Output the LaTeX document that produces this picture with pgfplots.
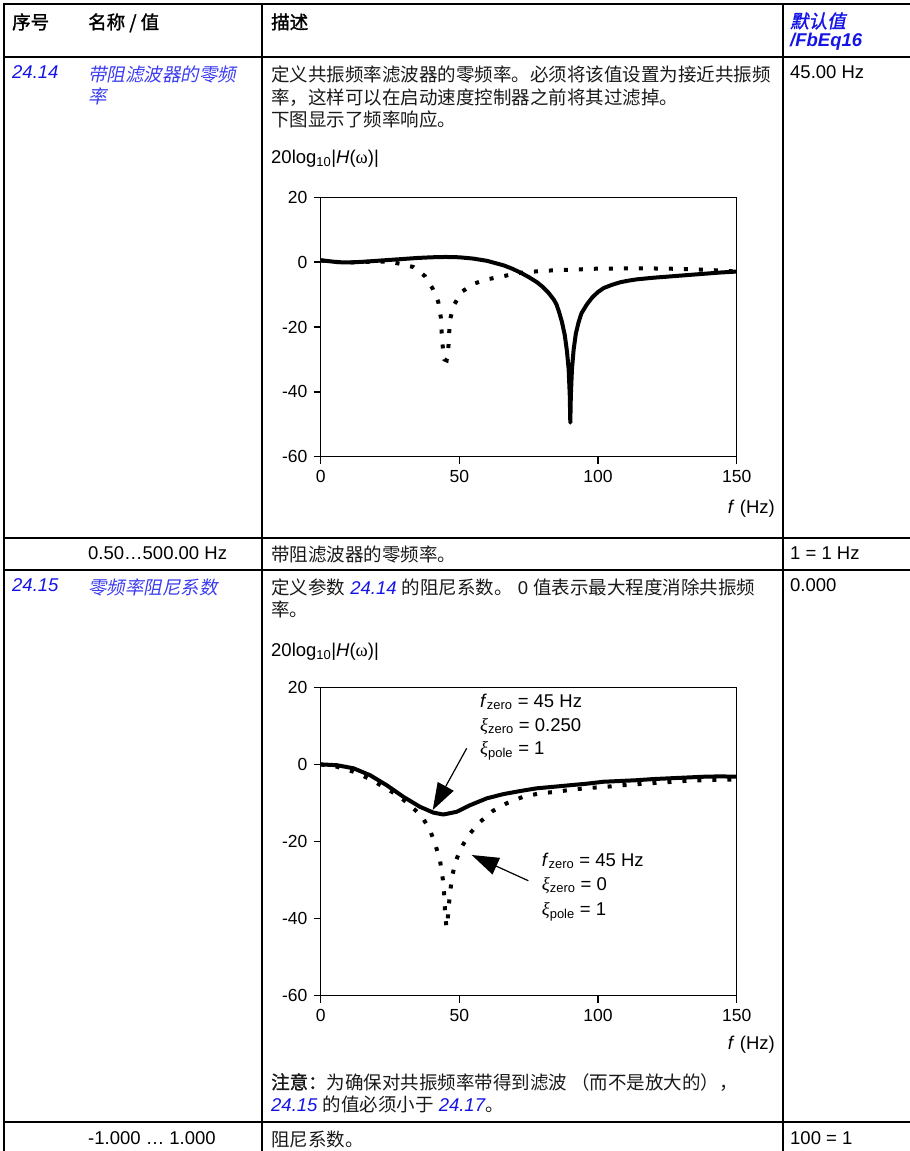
\documentclass[border=0pt]{standalone}
\usepackage{pgfplots}
\pgfplotsset{compat=1.18}
\usetikzlibrary{arrows.meta}
\usepackage{fontspec}
\setmainfont{Liberation Sans}
\newfontfamily\cjk{Noto Sans CJK SC}
\newfontfamily\cjkit[FakeSlant=0.2]{Noto Sans CJK SC}
\newfontfamily\cjkbf[FakeBold=1.5]{Noto Sans CJK SC}
\newfontfamily\cjkbfit[FakeBold=1.5,FakeSlant=0.2]{Noto Sans CJK SC}
\newfontfamily\serif{Liberation Serif}

\definecolor{lnk}{RGB}{20,20,230}
\definecolor{lnk2}{RGB}{60,60,240}
\definecolor{txt}{RGB}{25,25,25}

\pgfplotsset{
  bode/.style={
    scale only axis, width=416pt, anchor=south west,
    xmin=0, xmax=150, ymin=-60, ymax=20,
    xtick={0,50,100,150}, xticklabels={0,50,100,150},
    ytick={-60,-40,-20,0,20}, yticklabels={-60,-40,-20,0,20},
    tick align=outside, tick pos=left,
    major tick length=7pt,
    axis line style={line width=1.4pt},
    tick style={black, line width=1.4pt},
    ticklabel style={font=\fontsize{17.5}{20}\selectfont},
  },
  solidcurve/.style={black, line width=4pt, line join=round},
  dotcurve/.style={black, line width=4pt, dash pattern=on 4pt off 11pt},
}

% text helper: x, baseline y (pixels from top), content
\newcommand\T[3]{\node[anchor=base west, inner sep=0pt] at (#1,#2) {#3};}
\newcommand\gxi{{\serif\itshape ξ}}

\begin{document}
\fontsize{18.5}{22}\selectfont
\begin{tikzpicture}[x=1pt, y=-1pt]
\path[use as bounding box] (0,0) rectangle (910,1151);

% table rules
\begin{scope}[line width=2.3pt]
  \draw (4,4) -- (910,4);
  \draw (4,57) -- (910,57);
  \draw (4,538) -- (910,538);
  \draw (4,570) -- (910,570);
  \draw (4,1122) -- (910,1122);
  \draw (4,3) -- (4,1151);
  \draw (262,3) -- (262,1151);
  \draw (783,3) -- (783,1151);
\end{scope}

% header
\T{12}{29}{\cjkbf 序号}
\T{88}{29}{\cjkbf 名称 / 值}
\T{271}{29}{\cjkbf 描述}
\T{790}{28}{\color{lnk}\cjkbfit 默认值}
\T{790}{46}{\color{lnk}\bfseries\itshape /FbEq16}

% row 24.14
\T{12}{78}{\color{lnk}\itshape 24.14}
\T{88}{81}{\color{lnk2}\cjkit 带阻滤波器的零频}
\T{88}{103}{\color{lnk2}\cjkit 率}
\T{271}{81}{\color{txt}\cjk 定义共振频率滤波器的零频率。必须将该值设置为接近共振频}
\T{271}{104}{\color{txt}\cjk 率，这样可以在启动速度控制器之前将其过滤掉。}
\T{271}{126}{\color{txt}\cjk 下图显示了频率响应。}
\T{790}{78}{45.00 Hz}
\T{271}{163}{20log\textsubscript{10}|\textit{H}({\serif ω})|}

\begin{axis}[bode, height=259.4pt, at={(320.7pt,-456.7pt)}]
\addplot[dotcurve] coordinates {
  (0,0.5) (5,0.1) (10,-0.1) (15,0) (20,0.2) (25,0.1) (28.6,-0.5)
  (33.4,-1.5) (37.6,-4.3) (40.4,-8.2) (42.4,-12.3) (43.3,-17)
  (43.6,-21.5) (44,-26) (44.6,-30) (45.4,-30.3) (46,-27) (46.3,-22)
  (46.7,-17.5) (48,-13.3) (50.8,-9.2) (55,-6.7) (60,-5.3) (66,-4.3)
  (71,-3.4) (77,-2.9) (82,-2.6) (88,-2.4) (94,-2.2) (100,-2.0)
  (115,-1.9) (125,-2.0) (135,-2.2) (142,-2.5) (150,-2.9)
};
\addplot[solidcurve] coordinates {
  (0,0.6) (3,0.3) (6,0.0) (10,-0.1) (15,0.1) (20,0.4) (25,0.7) (30,1.0)
  (35,1.3) (40,1.5) (45,1.6) (50,1.5) (55,1.1) (60,0.4) (63,-0.3)
  (66,-1.0) (69,-2.0) (72,-3.2) (75,-4.6) (78,-6.2) (80,-7.6) (82,-9.3)
  (84,-11.5) (85,-13.0) (86,-15.5) (87,-18.5) (88,-22.5) (88.8,-27.5)
  (89.4,-33) (89.8,-41) (90,-49.5) (90.2,-41) (90.6,-33) (91.2,-27)
  (92,-22) (93,-18.5) (94,-15.8) (96,-13) (98,-10.8) (100,-9.2)
  (102,-8.0) (105,-7.0) (108,-6.2) (111,-5.7) (114,-5.3) (120,-4.8)
  (126,-4.4) (132,-4.0) (138,-3.6) (144,-3.2) (150,-2.9)
};
\end{axis}
\node[anchor=base east, inner sep=0pt] at (775,513) {\textit{f} (Hz)};

% values row
\T{88}{559}{0.50…500.00 Hz}
\T{271}{561}{\color{txt}\cjk 带阻滤波器的零频率。}
\T{790}{559}{1 = 1 Hz}

% row 24.15
\T{12}{591}{\color{lnk}\itshape 24.15}
\T{88}{594}{\color{lnk2}\cjkit 零频率阻尼系数}
\T{271}{594}{\color{txt}{\cjk 定义参数} {\color{lnk}\itshape 24.14} {\cjk 的阻尼系数。} 0 {\cjk 值表示最大程度消除共振频}}
\T{271}{616}{\color{txt}\cjk 率。}
\T{790}{591}{0.000}
\T{271}{656}{20log\textsubscript{10}|\textit{H}({\serif ω})|}

\begin{axis}[bode, height=308.4pt, at={(320.7pt,-995.7pt)}]
\addplot[dotcurve] coordinates {
  (0,0) (5.8,-0.6) (11.8,-1.9) (17.8,-3.8) (22.6,-5.8) (28,-8.1)
  (32.2,-10.6) (36.4,-13.4) (39.4,-17) (41.5,-21.2) (43,-24.8)
  (44,-29.6) (44.5,-33.5) (44.8,-37.8) (45.3,-42.1) (45.7,-42.1)
  (46,-37.8) (46.6,-33.9) (47.2,-29.8) (48.4,-25.7) (50.5,-21.8)
  (53.6,-18.1) (57.5,-14.9) (62,-12.1) (67,-10.1) (73,-8.4) (79,-7.5)
  (85,-7.1) (91,-6.5) (97,-6.1) (103,-5.8) (109,-5.4) (115,-5.1)
  (121,-4.8) (127,-4.5) (133,-4.2) (138,-4.1) (150,-3.9)
};
\addplot[solidcurve] coordinates {
  (0,0) (5.8,-0.2) (11.8,-1) (17.8,-2.8) (23.8,-5.4) (29.8,-8.4)
  (35.8,-11) (40.6,-12.5) (44.2,-13) (49,-12.3) (53.8,-10.6)
  (59.9,-8.8) (65.9,-7.7) (72,-6.9) (77.9,-6.2) (84,-5.8) (89.9,-5.4)
  (96,-5.0) (101.9,-4.5) (108,-4.3) (113.9,-4.1) (120,-3.8) (126,-3.6)
  (132,-3.4) (138,-3.2) (144,-3.1) (150,-3.2)
};
\end{axis}
\node[anchor=base east, inner sep=0pt] at (775,1049) {\textit{f} (Hz)};

% annotations
\T{480}{707}{\textit{f}\textsubscript{zero} = 45 Hz}
\T{480}{731}{\gxi\textsubscript{zero} = 0.250}
\T{480}{754}{\gxi\textsubscript{pole} = 1}
\T{541.7}{866}{\textit{f}\textsubscript{zero} = 45 Hz}
\T{541.7}{890}{\gxi\textsubscript{zero} = 0}
\T{541.7}{915}{\gxi\textsubscript{pole} = 1}
\draw[line width=1.2pt, -{Triangle[length=27pt,width=18pt]}] (466.7,748.3) -- (432.7,810);
\draw[line width=1.2pt, -{Triangle[length=27pt,width=18pt]}] (528.3,880.7) -- (471.7,855);

% note and last row
\T{271}{1089}{\color{txt}{\cjkbf 注意：}{\cjk 为确保对共振频率带得到滤波 （而不是放大的），}}
\T{271}{1111}{\color{txt}{\color{lnk}\itshape 24.15} {\cjk 的值必须小于} {\color{lnk}\itshape 24.17}{\cjk 。}}
\T{88}{1144}{-1.000 … 1.000}
\T{271}{1146}{\color{txt}\cjk 阻尼系数。}
\T{790}{1144}{100 = 1}
\end{tikzpicture}
\end{document}
